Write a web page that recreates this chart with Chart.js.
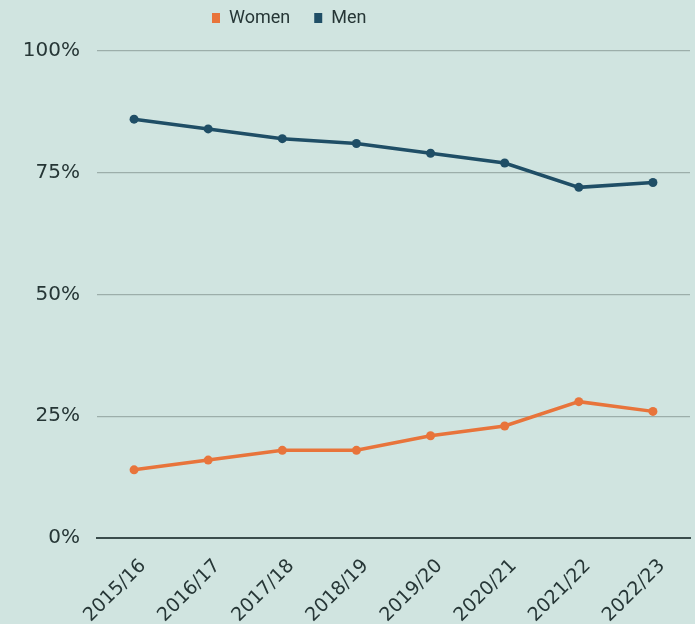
<!DOCTYPE html>
<html>
<head>
<meta charset="utf-8">
<script src="https://cdn.jsdelivr.net/npm/chart.js@4/dist/chart.umd.min.js"></script>
<style>
  html, body { margin: 0; padding: 0; background: #d0e4e0; overflow: hidden; }
  #wrap { width: 695px; height: 624px; }
</style>
</head>
<body>
<div id="wrap"><canvas id="chart" width="695" height="624"></canvas></div>
<script>
// Share of students by sex, per academic year
const years = ['2015/16', '2016/17', '2017/18', '2018/19', '2019/20', '2020/21', '2021/22', '2022/23'];
const women = [14, 16, 18, 18, 21, 23, 28, 26];
const men = [86, 84, 82, 81, 79, 77, 72, 73];
const yTicks = [0, 25, 50, 75, 100];

const textColor = '#263636';
const legendPad = 24;
const legendFont = 18;

// legend sits a bit left of centre, and reserves a fixed band above the plot
const legendSpot = {
  id: 'legendSpot',
  beforeInit(chart) {
    const legend = chart.legend;
    const fit = legend.fit;
    legend.fit = function () { fit.call(this); this.height = 51; };
  },
  afterLayout(chart) {
    chart.legend.left = 212 - legendPad;
    chart.legend.top = 18 - legendPad - legendFont / 2;
  }
};

new Chart(document.getElementById('chart'), {
  type: 'line',
  data: {
    labels: years,
    datasets: [
      { label: 'Women', data: women, borderColor: '#e8743b', backgroundColor: '#e8743b',
        borderWidth: 3.5, pointRadius: 4.5, pointBorderWidth: 0, tension: 0 },
      { label: 'Men', data: men, borderColor: '#1f4e66', backgroundColor: '#1f4e66',
        borderWidth: 3.5, pointRadius: 4.5, pointBorderWidth: 0, tension: 0 }
    ]
  },
  options: {
    responsive: false,
    animation: false,
    layout: { padding: { left: 0, right: 5, top: 0, bottom: 0 } },
    plugins: {
      tooltip: { enabled: false },
      legend: {
        position: 'top',
        align: 'start',
        labels: {
          color: textColor,
          font: { family: 'Roboto, sans-serif', size: legendFont },
          boxWidth: 8, boxHeight: 10, padding: legendPad,
          generateLabels: chart => Chart.defaults.plugins.legend.labels.generateLabels(chart)
            .map(item => Object.assign(item, { lineWidth: 0 }))
        }
      }
    },
    scales: {
      x: {
        offset: true,
        afterFit: axis => { axis.height = 86; },
        grid: { display: false, drawTicks: false },
        border: { display: true, color: '#3a4c4c', width: 2 },
        ticks: {
          color: textColor,
          font: { family: "'DejaVu Sans', sans-serif", size: 19 },
          maxRotation: 45, minRotation: 45, padding: 17, labelOffset: 9
        }
      },
      y: {
        min: 0, max: 100,
        afterBuildTicks: axis => { axis.ticks = yTicks.map(v => ({ value: v })); },
        afterFit: axis => { axis.width = 97; },
        grid: { color: '#9caeaa', lineWidth: 1.2, drawTicks: false },
        border: { display: false },
        ticks: {
          color: textColor,
          font: { family: "'DejaVu Sans', sans-serif", size: 20 },
          padding: 17,
          callback: v => v + '%'
        }
      }
    }
  },
  plugins: [legendSpot]
});
</script>
</body>
</html>
